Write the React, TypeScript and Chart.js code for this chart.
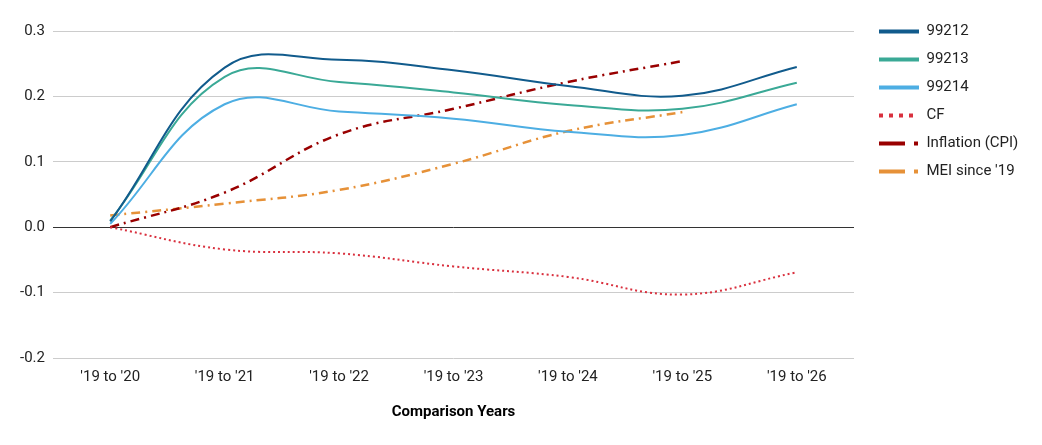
import React, { useEffect, useRef } from 'react';
import { Chart, registerables } from 'chart.js';

Chart.register(...registerables);

const categories = ["'19 to '20", "'19 to '21", "'19 to '22", "'19 to '23", "'19 to '24", "'19 to '25", "'19 to '26"];

const s99212 = [0.009, 0.244, 0.256, 0.24, 0.216, 0.201, 0.245];
const s99213 = [0.01, 0.23, 0.222, 0.206, 0.187, 0.181, 0.221];
const s99214 = [0.005, 0.188, 0.177, 0.166, 0.146, 0.141, 0.188];
const cf = [0, -0.034, -0.04, -0.06, -0.076, -0.103, -0.069];
const cpi = [0, 0.053, 0.142, 0.181, 0.222, 0.254, null];
const mei = [0.018, 0.036, 0.057, 0.097, 0.147, 0.176, null];

const yTicks = { min: -0.2, max: 0.3, step: 0.1 };

const seriesNames = ['99212', '99213', '99214', 'CF', 'Inflation (CPI)', "MEI since '19"];

export default function App() {
  const ref = useRef<HTMLCanvasElement>(null);

  useEffect(() => {
    if (!ref.current) return;
    const legendDash: number[][] = [[], [], [], [4, 6], [26, 9, 4, 20], [26, 9, 4, 20]];

    const legendTweak = {
      id: 'legendTweak',
      beforeLayout(chart: any) {
        const lg = chart.legend;
        if (lg && !lg._patched) {
          const f = lg.fit.bind(lg);
          lg.fit = function () {
            f();
            this.width = 180;
          };
          lg._patched = true;
        }
      },
      afterLayout(chart: any) {
        if (chart.legend) {
          chart.legend.left += 12;
        }
      },
    };

    const common = { pointRadius: 0, pointHoverRadius: 0, tension: 0.4, borderWidth: 2, fill: false };

    const chart = new Chart(ref.current, {
      type: 'line',
      data: {
        labels: categories,
        datasets: [
          { ...common, label: seriesNames[0], data: s99212, borderColor: '#115b8c', backgroundColor: '#115b8c' },
          { ...common, label: seriesNames[1], data: s99213, borderColor: '#3aa996', backgroundColor: '#3aa996' },
          { ...common, label: seriesNames[2], data: s99214, borderColor: '#4daee3', backgroundColor: '#4daee3' },
          { ...common, label: seriesNames[3], data: cf, borderColor: '#d9303e', backgroundColor: '#d9303e', borderDash: [2, 3] },
          { ...common, label: seriesNames[4], data: cpi, borderColor: '#990000', backgroundColor: '#990000', borderDash: [9, 5, 2, 5], borderWidth: 2.5 },
          { ...common, label: seriesNames[5], data: mei, borderColor: '#e69138', backgroundColor: '#e69138', borderDash: [9, 5, 2, 5], borderWidth: 2.5 },
        ],
      },
      options: {
        responsive: true,
        maintainAspectRatio: false,
        animation: false,
        layout: { padding: { top: 3, right: 0, bottom: 12, left: 0 } },
        font: { family: 'Roboto' },
        plugins: {
          title: {
            display: true,
            text: '',
            fullSize: false,
            font: { size: 10, lineHeight: 1 },
            padding: { top: 10, bottom: 0 },
          },
          tooltip: { enabled: false },
          legend: {
            position: 'right',
            align: 'start',
            labels: {
              usePointStyle: true,
              pointStyle: 'line',
              pointStyleWidth: 40,
              padding: 13,
              color: '#222',
              font: { family: 'Roboto', size: 15 },
              generateLabels(chart: any) {
                const items = Chart.defaults.plugins.legend.labels.generateLabels(chart);
                return items.map((it: any, i: number) => ({
                  ...it,
                  pointStyle: 'line',
                  lineWidth: 4,
                  lineDash: legendDash[i],
                  lineCap: 'butt',
                  fontColor: '#222',
                }));
              },
            },
          },
        },
        scales: {
          x: {
            offset: true,
            grid: { display: false, drawTicks: false },
            border: { display: false },
            ticks: { padding: 10, color: '#222', font: { family: 'Roboto', size: 15 } },
            title: {
              display: true,
              text: 'Comparison Years',
              color: '#000',
              font: { family: 'Roboto', size: 15, weight: 'bold' },
              padding: { top: 7, bottom: 4 },
            },
          },
          y: {
            min: yTicks.min,
            max: yTicks.max,
            afterFit(s: any) {
              s.width = 45;
            },
            ticks: {
              stepSize: yTicks.step,
              padding: 8,
              color: '#222',
              font: { family: 'Roboto', size: 15 },
              callback: (v: any) => Number(v).toFixed(1),
            },
            grid: {
              drawTicks: false,
              lineWidth: 1,
              color: (ctx: any) => (ctx.tick && Math.abs(ctx.tick.value) < 1e-9 ? '#333333' : '#cccccc'),
            },
            border: { display: false },
          },
        },
      },
      plugins: [legendTweak],
    } as any);

    return () => chart.destroy();
  }, []);

  return (
    <div style={{ position: 'relative', width: 1026, height: 429 }}>
      <canvas ref={ref} />
    </div>
  );
}
